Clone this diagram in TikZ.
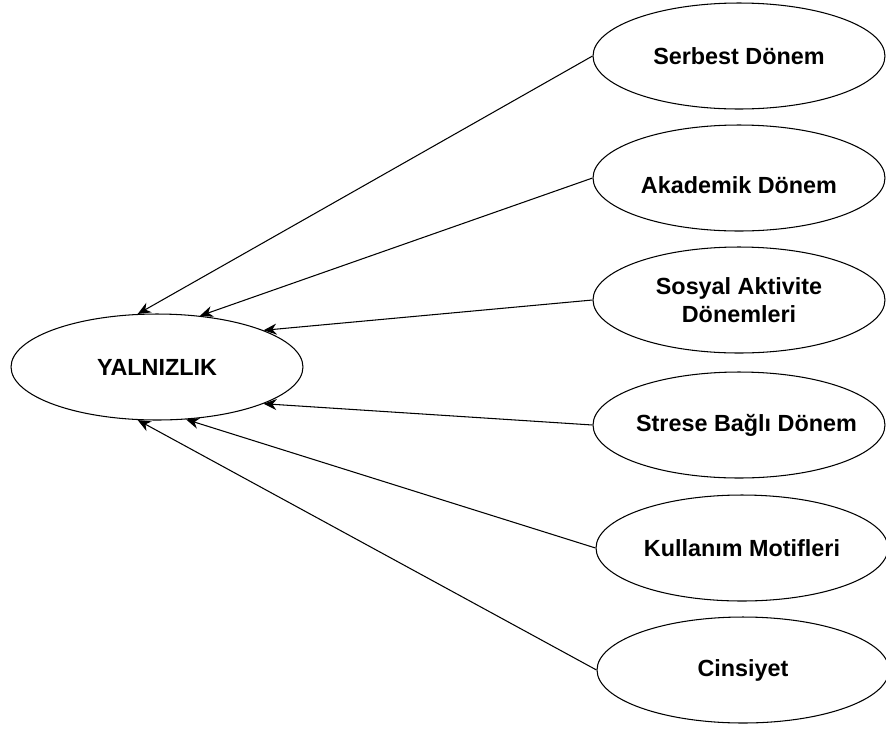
\documentclass[tikz,border=0pt]{standalone}
\usepackage{fontspec}
\setmainfont{Liberation Sans}
\usetikzlibrary{shapes.geometric, arrows.meta}

\begin{document}
\begin{tikzpicture}[x=0.02cm, y=-0.02cm,
  oval/.style={draw, ellipse, minimum width=5.84cm, minimum height=2.12cm, inner sep=1pt, line width=0.6pt,
    align=center, font=\fontsize{13.3}{16}\selectfont\bfseries},
  arr/.style={-{Stealth[length=2.6mm, width=2.2mm]}, line width=0.6pt}]
\useasboundingbox (0,0) rectangle (886,731);
\node[oval] (Y) at (157,367) {YALNIZLIK};
\node[oval] (S) at (739,56) {Serbest Dönem};
\node[oval] (A) at (739,178) {\raisebox{-0.18cm}[0.34cm][0.08cm]{Akademik Dönem}};
\node[oval] (So) at (739,300) {Sosyal Aktivite\\Dönemleri};
\node[oval, inner xsep=-0.4cm] (St) at (739,425) {\hspace{0.3cm}Strese Bağlı Dönem};
\node[oval] (K) at (742,548) {Kullanım Motifleri};
\node[oval] (C) at (743,670) {Cinsiyet};
\draw[arr] (S.west) -- (Y.110);
\draw[arr] (A.west) -- (Y.50);
\draw[arr] (So.west) -- (Y.19);
\draw[arr] (St.west) -- (Y.-19);
\draw[arr] (K.west) -- (Y.-61);
\draw[arr] (C.west) -- (Y.-110);
\end{tikzpicture}
\end{document}
